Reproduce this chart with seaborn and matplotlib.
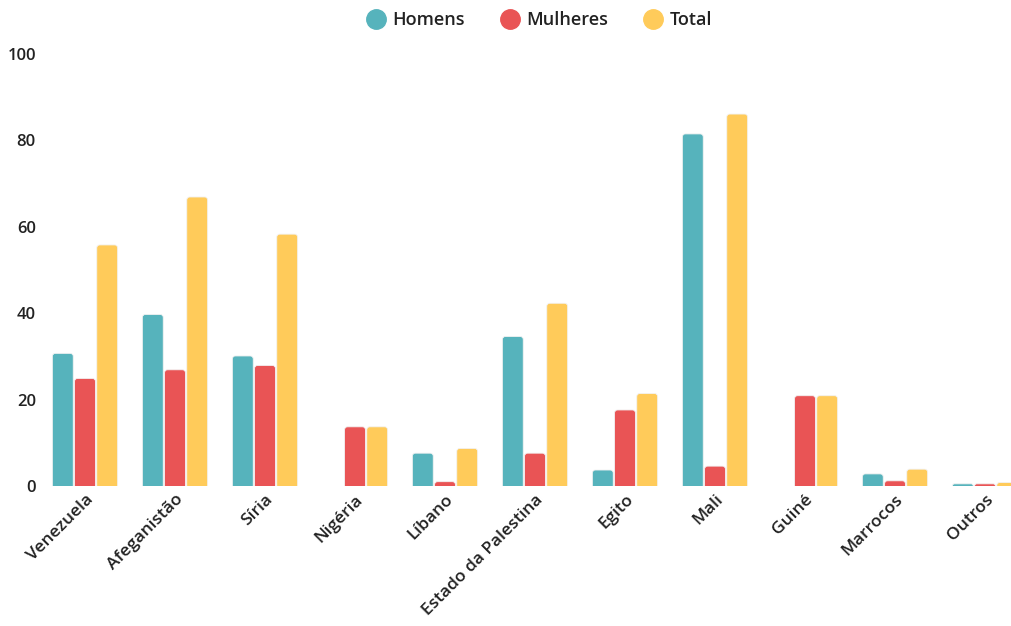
import matplotlib
matplotlib.use("Agg")
import matplotlib.pyplot as plt
from matplotlib.patches import FancyBboxPatch
from matplotlib.lines import Line2D
import seaborn as sns
import pandas as pd

# Refugee counts by country of origin
paises = ["Venezuela", "Afeganistão", "Síria", "Nigéria", "Líbano",
          "Estado da Palestina", "Egito", "Mali", "Guiné", "Marrocos", "Outros"]
homens = [30.7, 39.7, 30.1, 0.0, 7.6, 34.6, 3.7, 81.5, 0.0, 2.8, 0.5]
mulheres = [24.9, 26.9, 27.9, 13.7, 1.0, 7.6, 17.6, 4.6, 20.9, 1.2, 0.5]
total = [55.8, 66.9, 58.3, 13.7, 8.7, 42.3, 21.4, 86.1, 20.9, 3.9, 0.8]
series = ["Homens", "Mulheres", "Total"]
cores = ["#56B3BC", "#E95455", "#FFCB5A"]
y_ticks = [0, 20, 40, 60, 80, 100]

df = pd.DataFrame({
    "pais": paises * 3,
    "grupo": [s for s in series for _ in paises],
    "valor": homens + mulheres + total,
})

sns.set_theme(style="white")
plt.rcParams["font.family"] = ["Open Sans", "DejaVu Sans"]
texto = "#222222"

W, H, DPI = 1012, 626, 100
fig = plt.figure(figsize=(W / DPI, H / DPI), dpi=DPI)
ax_left, ax_right, ax_top, ax_bottom = 40, 1030, 54, 486
ax = fig.add_axes([ax_left / W, (H - ax_bottom) / H,
                   (ax_right - ax_left) / W, (ax_bottom - ax_top) / H])

sns.barplot(data=df, x="pais", y="valor", hue="grupo", order=paises,
            hue_order=series, palette=cores, width=0.74, gap=0.06,
            saturation=1, legend=False, ax=ax)

ax.set_ylim(0, 100)
ax.set_xlim(-0.5, len(paises) - 0.5)

# Swap plain rectangles for bars with rounded tops
px_x = (ax_right - ax_left) / len(paises)    # pixels per x unit
px_y = (ax_bottom - ax_top) / 100.0          # pixels per y unit
aspect = px_x / px_y
radius_px = 3.0
for bar in list(ax.patches):
    x, w, h = bar.get_x(), bar.get_width(), bar.get_height()
    fc = bar.get_facecolor()
    bar.remove()
    if h <= 0:
        continue
    ry = min(radius_px / px_y, h)
    rx = ry / aspect
    patch = FancyBboxPatch((x, -ry), w, h + ry,
                           boxstyle=f"round,pad=0,rounding_size={rx}",
                           mutation_aspect=aspect, facecolor=fc,
                           edgecolor="#f2f2f2", linewidth=0.6, clip_on=True)
    ax.add_patch(patch)

ax.set_yticks(y_ticks)
ax.set_yticklabels([str(t) for t in y_ticks])
ax.set_xlabel("")
ax.set_ylabel("")
ax.tick_params(axis="both", length=0, labelsize=12, colors=texto)
ax.tick_params(axis="x", labelsize=12.5)
ax.tick_params(axis="y", pad=3)
ax.tick_params(axis="x", pad=4)
for lab in ax.get_xticklabels():
    lab.set_rotation(45)
    lab.set_ha("right")
    lab.set_rotation_mode("anchor")
    lab.set_fontweight("semibold")
for lab in ax.get_yticklabels():
    lab.set_fontweight("semibold")
for s in ax.spines.values():
    s.set_visible(False)
ax.grid(False)

handles = [Line2D([0], [0], marker="o", linestyle="none", markersize=14,
                  markerfacecolor=c, markeredgecolor=c) for c in cores]
leg = ax.legend(handles, series, loc="lower center", bbox_to_anchor=(0.5, 1.02),
                ncol=3, frameon=False, handletextpad=-0.1, columnspacing=1.5,
                prop={"size": 13, "weight": "semibold"})
for t in leg.get_texts():
    t.set_color(texto)

fig.savefig("out.png", dpi=DPI)
